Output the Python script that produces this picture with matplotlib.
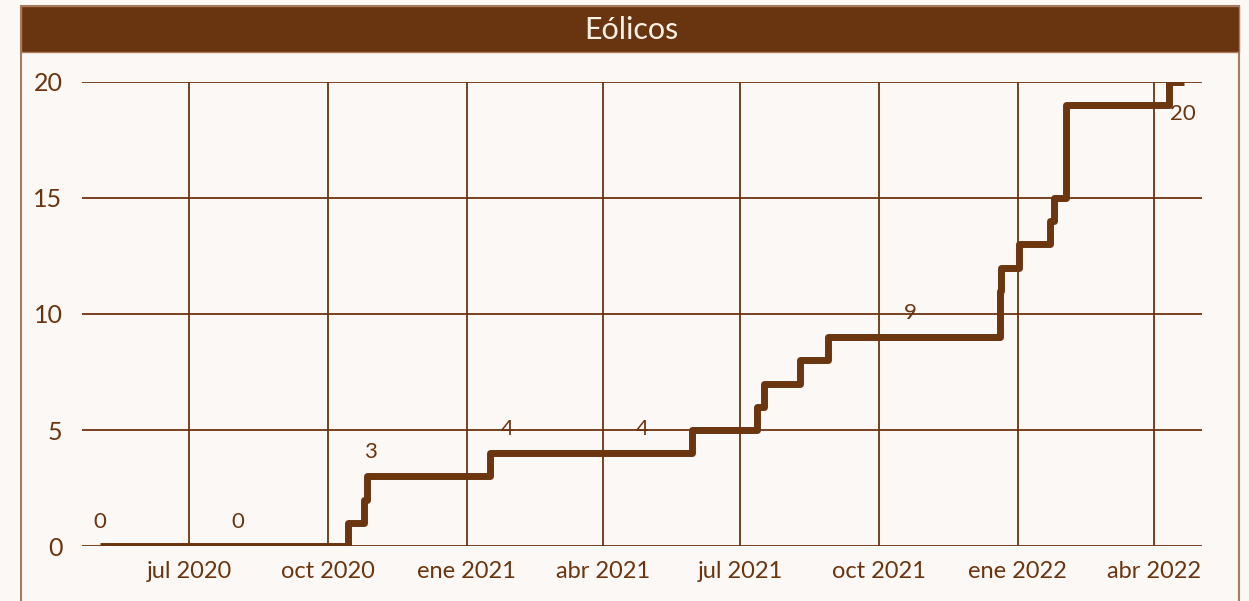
import datetime as dt

import matplotlib
matplotlib.use("Agg")
import matplotlib.pyplot as plt
from matplotlib.patches import Rectangle

BROWN = "#6B3510"
FRAME = "#A77C5C"
BG = "#FCF8F5"

# step changes (date, cumulative count)
step_dates = ["2020-05-03", "2020-10-14", "2020-10-25", "2020-10-27", "2021-01-16",
              "2021-05-30", "2021-07-12", "2021-07-17", "2021-08-10", "2021-08-28",
              "2021-12-20", "2021-12-21", "2022-01-02", "2022-01-22", "2022-01-25",
              "2022-02-02", "2022-04-11", "2022-04-21"]
step_values = [0, 1, 2, 3, 4, 5, 6, 7, 8, 9, 11, 12, 13, 14, 15, 19, 20, 20]

label_dates = ["2020-05-03", "2020-08-02", "2020-10-29", "2021-01-28",
               "2021-04-27", "2021-10-22", "2022-04-20"]
label_values = [0, 0, 3, 4, 4, 9, 20]

tick_dates = ["2020-07-01", "2020-10-01", "2021-01-01", "2021-04-01",
              "2021-07-01", "2021-10-01", "2022-01-01", "2022-04-01"]
tick_labels = ["jul 2020", "oct 2020", "ene 2021", "abr 2021",
               "jul 2021", "oct 2021", "ene 2022", "abr 2022"]

to_date = lambda s: dt.datetime.strptime(s, "%Y-%m-%d")

plt.rcParams["font.family"] = ["Lato", "DejaVu Sans"]

W, H = 1249, 601
fig = plt.figure(figsize=(W / 100, H / 100), dpi=100, facecolor=BG)

# outer frame and title bar
fig.patches.append(Rectangle((21 / W, -0.05), (1239 - 21) / W, 1.05 - 6 / H,
                             transform=fig.transFigure, facecolor=BG,
                             edgecolor=FRAME, lw=1.5, zorder=0))
fig.patches.append(Rectangle((21 / W, 1 - 52 / H), (1239 - 21) / W, 46 / H,
                             transform=fig.transFigure, facecolor="#693410",
                             edgecolor=FRAME, lw=1.0, zorder=1))
fig.text(631 / W, 1 - 30 / H, "Eólicos", color="#FCF1E6", fontsize=22,
         ha="center", va="center", zorder=2)

ax = fig.add_axes([82 / W, 1 - 546 / H, (1202 - 82) / W, (546 - 82) / H])
ax.set_zorder(3)
ax.set_facecolor("none")

x = [to_date(d) for d in step_dates]
ax.plot(x, step_values, drawstyle="steps-post", color=BROWN, lw=5,
        solid_capstyle="butt", solid_joinstyle="round", zorder=3)

for d, v in zip(label_dates, label_values):
    off = -32 if v == 20 else 24
    ax.annotate(str(v), (to_date(d), v), xytext=(0, off), textcoords="offset pixels",
                ha="center", va="center", color=BROWN, fontsize=16)

ax.set_xlim(to_date("2020-04-21"), to_date("2022-05-03"))
ax.set_ylim(0, 20)
ax.set_yticks([0, 5, 10, 15, 20])
ax.set_xticks([to_date(d) for d in tick_dates])
ax.set_xticklabels(tick_labels)

ax.grid(True, color=BROWN, lw=1.3)
ax.set_axisbelow(True)
for s in ax.spines.values():
    s.set_visible(False)
ax.tick_params(length=0, colors=BROWN, labelsize=17)
ax.tick_params(axis="y", pad=14, labelsize=18)
ax.tick_params(axis="x", pad=11)

fig.savefig("out.png", dpi=100, facecolor=BG)
